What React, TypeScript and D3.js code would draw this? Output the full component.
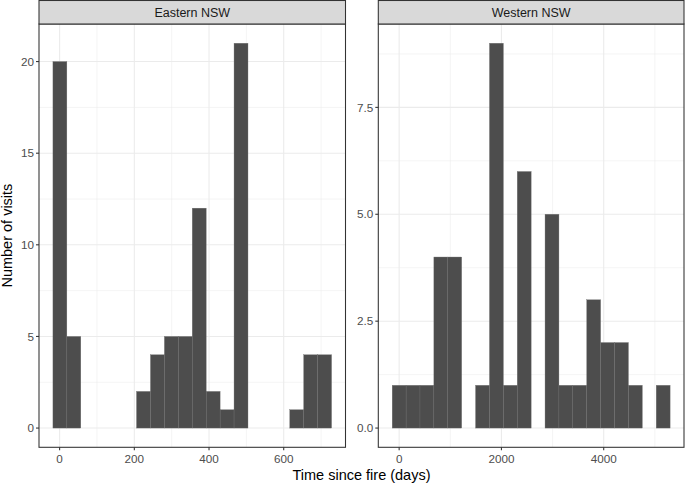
import React from "react";
import * as d3 from "d3";

// histogram bins (20 bins per region), counts
const eastBinStart = -17.9;
const eastBinWidth = 37.3;
const eastCounts = [20, 5, 0, 0, 0, 0, 2, 4, 5, 5, 12, 2, 1, 21, 0, 0, 0, 1, 4, 4];
const eastXTicks = [0, 200, 400, 600];
const eastYTicks = [0, 5, 10, 15, 20];

const westBinStart = -135.8;
const westBinWidth = 271.7;
const westCounts = [1, 1, 1, 4, 4, 0, 1, 9, 1, 6, 0, 5, 1, 1, 3, 2, 2, 1, 0, 1];
const westXTicks = [0, 2000, 4000];
const westYTicks = [0, 2.5, 5, 7.5];

const W = 685;
const H = 485;
const FONT = "'Liberation Sans', Arial, Helvetica, sans-serif";

interface PanelProps {
  title: string;
  left: number;
  right: number;
  binStart: number;
  binWidth: number;
  counts: number[];
  xTicks: number[];
  yTicks: number[];
  yFormat: (v: number) => string;
}

const Panel: React.FC<PanelProps> = ({ title, left, right, binStart, binWidth, counts, xTicks, yTicks, yFormat }) => {
  const stripTop = 0.5;
  const stripBottom = 24;
  const top = stripBottom;
  const bottom = 447.3;

  const xMin = binStart;
  const xMax = binStart + binWidth * counts.length;
  const xPad = (xMax - xMin) * 0.05;
  const x = d3.scaleLinear().domain([xMin - xPad, xMax + xPad]).range([left, right]);

  const yMaxVal = d3.max(counts)!;
  const yPad = yMaxVal * 0.05;
  const y = d3.scaleLinear().domain([-yPad, yMaxVal + yPad]).range([bottom, top]);

  const xStep = xTicks[1] - xTicks[0];
  const xMinor = d3.range(xTicks[0] - xStep / 2, x.domain()[1], xStep).filter((v) => v > x.domain()[0]);
  const yStep = yTicks[1] - yTicks[0];
  const yMinor = d3.range(yTicks[0] - yStep / 2, y.domain()[1], yStep).filter((v) => v > y.domain()[0]);

  return (
    <g>
      <rect x={left} y={top} width={right - left} height={bottom - top} fill="#fff" />
      {xMinor.map((v) => (
        <line key={"xm" + v} x1={x(v)} x2={x(v)} y1={top} y2={bottom} stroke="#EBEBEB" strokeWidth={0.55} />
      ))}
      {yMinor.map((v) => (
        <line key={"ym" + v} x1={left} x2={right} y1={y(v)} y2={y(v)} stroke="#EBEBEB" strokeWidth={0.55} />
      ))}
      {xTicks.map((v) => (
        <line key={"xg" + v} x1={x(v)} x2={x(v)} y1={top} y2={bottom} stroke="#EBEBEB" strokeWidth={1.07} />
      ))}
      {yTicks.map((v) => (
        <line key={"yg" + v} x1={left} x2={right} y1={y(v)} y2={y(v)} stroke="#EBEBEB" strokeWidth={1.07} />
      ))}
      {counts.map((c, i) =>
        c > 0 ? (
          <rect
            key={"b" + i}
            x={x(binStart + i * binWidth)}
            y={y(c)}
            width={x(binStart + (i + 1) * binWidth) - x(binStart + i * binWidth)}
            height={y(0) - y(c)}
            fill="#4D4D4D"
            stroke="#6E6E6E"
            strokeWidth={0.35}
          />
        ) : null
      )}
      <rect x={left} y={top} width={right - left} height={bottom - top} fill="none" stroke="#333333" strokeWidth={1.07} />
      <rect x={left} y={stripTop} width={right - left} height={stripBottom - stripTop} fill="#D9D9D9" stroke="#333333" strokeWidth={1.07} />
      <text x={(left + right) / 2} y={17} textAnchor="middle" fontSize={12.5} fill="#1A1A1A">
        {title}
      </text>
      {xTicks.map((v) => (
        <g key={"xt" + v}>
          <line x1={x(v)} x2={x(v)} y1={bottom} y2={bottom + 3} stroke="#333333" strokeWidth={1.07} />
          <text x={x(v)} y={bottom + 16} textAnchor="middle" fontSize={11.7} fill="#4D4D4D">
            {v}
          </text>
        </g>
      ))}
      {yTicks.map((v) => (
        <g key={"yt" + v}>
          <line x1={left - 3} x2={left} y1={y(v)} y2={y(v)} stroke="#333333" strokeWidth={1.07} />
          <text x={left - 5} y={y(v)} dy="0.36em" textAnchor="end" fontSize={11.7} fill="#4D4D4D">
            {yFormat(v)}
          </text>
        </g>
      ))}
    </g>
  );
};

export default function App() {
  return (
    <svg width={W} height={H} style={{ position: "absolute", left: 0, top: 0, background: "#fff" }} fontFamily={FONT}>
      <rect width={W} height={H} fill="#fff" />
      <Panel
        title="Eastern NSW"
        left={39}
        right={345.5}
        binStart={eastBinStart}
        binWidth={eastBinWidth}
        counts={eastCounts}
        xTicks={eastXTicks}
        yTicks={eastYTicks}
        yFormat={(v) => String(v)}
      />
      <Panel
        title="Western NSW"
        left={378.3}
        right={684}
        binStart={westBinStart}
        binWidth={westBinWidth}
        counts={westCounts}
        xTicks={westXTicks}
        yTicks={westYTicks}
        yFormat={(v) => v.toFixed(1)}
      />
      <text x={361.5} y={480} textAnchor="middle" fontSize={14.5} fill="#000">
        Time since fire (days)
      </text>
      <text transform={`translate(12,235.6) rotate(-90)`} textAnchor="middle" fontSize={14.5} fill="#000">
        Number of visits
      </text>
    </svg>
  );
}
